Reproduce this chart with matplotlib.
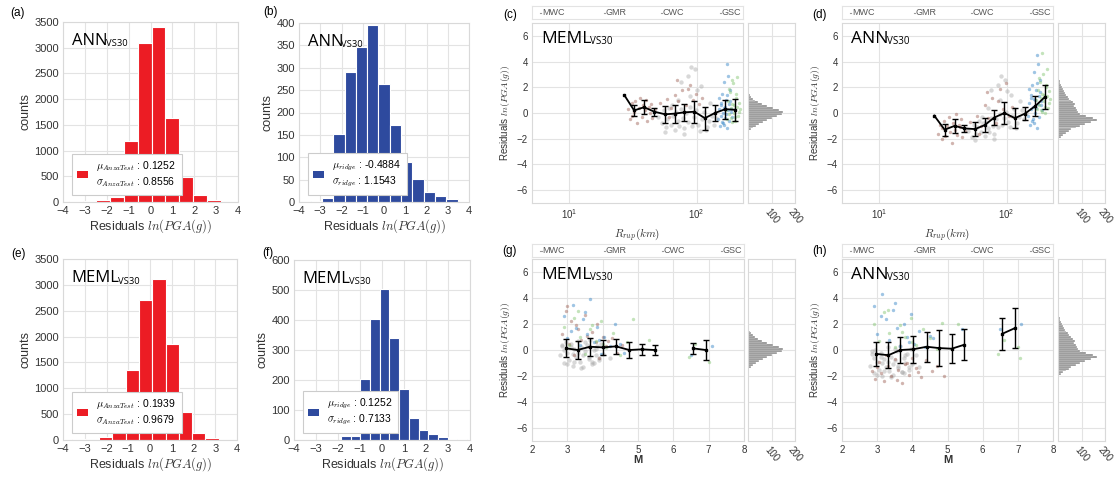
import numpy as np
import matplotlib
matplotlib.use("Agg")
import matplotlib.pyplot as plt
from matplotlib.patches import Patch

plt.rcParams['font.family'] = ['Liberation Sans', 'DejaVu Sans']
plt.rcParams['mathtext.fontset'] = 'cm'

W, H = 1115, 480
fig = plt.figure(figsize=(W / 100, H / 100), dpi=100)

GRID = '#e3e3e3'
SPINE = '#d9d9d9'
TICK = '#333333'
RED = '#ec1c24'
BLUE = '#2e4a9e'
HGRAY = '#8a8a8a'
C_MWC = '#9a5a4e'
C_GMR = '#a9a9a9'
C_CWC = '#2a7fc4'
C_GSC = '#7cc26a'
NA = np.nan

# ---------------- histogram data ----------------
a_edges = [-3.73, -3.10, -2.47, -1.84, -1.21, -0.58, 0.05, 0.68, 1.31, 1.94, 2.57, 3.20]
a_counts = [10, 20, 40, 100, 1180, 3100, 3400, 1640, 480, 130, 30]

b_edges = [-3.45, -2.92, -2.39, -1.85, -1.32, -0.79, -0.26, 0.28, 0.81, 1.34, 1.87, 2.41, 2.94, 3.47, 4.00]
b_counts = [3, 10, 152, 290, 346, 395, 264, 173, 89, 52, 22, 13, 7, 3]

e_edges = [-4.18, -3.57, -2.95, -2.34, -1.73, -1.12, -0.50, 0.107, 0.72, 1.33, 1.94, 2.55, 3.17]
e_counts = [15, 10, 5, 50, 150, 1350, 2700, 3120, 1850, 550, 130, 30]

f_edges = [-1.86, -1.42, -0.98, -0.54, -0.10, 0.34, 0.78, 1.22, 1.66, 2.10, 2.54, 2.98, 3.42, 3.86, 4.30]
f_counts = [12, 15, 205, 405, 505, 340, 170, 72, 35, 20, 9, 3, 5, 2]

hist_legends = {
    'a': (r'$\mu_{AnzaTest}$ : 0.1252', r'$\sigma_{AnzaTest}$ : 0.8556'),
    'b': (r'$\mu_{ridge}$ : -0.4884', r'$\sigma_{ridge}$ : 1.1543'),
    'e': (r'$\mu_{AnzaTest}$ : 0.1939', r'$\sigma_{AnzaTest}$ : 0.9679'),
    'f': (r'$\mu_{ridge}$ : 0.1252', r'$\sigma_{ridge}$ : 0.7133'),
}

# ---------------- binned means (error bars) ----------------
c_r = [27, 32.3, 38.7, 46.5, 56.5, 67, 80, 96, 116, 139, 168, 200]
c_mean = [1.4, 0.2, 0.45, 0.1, -0.1, -0.05, 0.05, 0.1, -0.4, 0.0, 0.3, 0.25]
c_std = [NA, 0.45, 0.55, 0.3, 0.65, 0.7, 0.65, 0.85, 0.9, 0.65, 0.75, 0.85]

d_r = [27, 32.6, 39, 46.5, 56.5, 67, 80, 96, 116, 139, 168, 200]
d_mean = [-0.2, -1.3, -1.0, -1.2, -1.25, -0.95, -0.35, 0.0, -0.4, -0.05, 0.55, 1.25]
d_std = [NA, 0.45, 0.55, 0.3, 0.55, 0.55, 0.6, 0.85, 0.8, 0.5, 0.8, 0.9]

g_m1 = [2.96, 3.29, 3.64, 4.01, 4.38, 4.75, 5.11, 5.47]
g_mean1 = [0.13, 0.0, 0.25, 0.2, 0.28, 0.0, 0.05, 0.0]
g_std1 = [0.7, 0.7, 0.7, 0.55, 0.55, 0.65, 0.4, 0.4]
g_m2 = [6.57, 6.92]
g_mean2 = [0.12, 0.0]
g_std2 = [0.4, 0.75]

h_m1 = [2.97, 3.32, 3.66, 4.01, 4.41, 4.75, 5.12, 5.47]
h_mean1 = [-0.3, -0.4, 0.0, 0.05, 0.25, 0.15, 0.1, 0.4]
h_std1 = [0.95, 1.0, 1.0, 1.05, 1.15, 1.4, 1.1, 1.2]
h_m2 = [6.56, 6.93]
h_mean2 = [1.25, 1.7]
h_std2 = [1.25, 1.55]

# ---------------- scatter of residuals by region ----------------
mwc_r = [29, 30, 31, 31, 32, 33, 34, 35, 36, 37, 38, 39, 40, 41, 42, 43, 44, 45, 47, 52,
         58, 63, 68, 72, 77, 82, 88, 93, 98, 104, 110, 61, 70, 85]
mwc_c_y = [0.3, -0.5, 0.8, -0.2, 0.1, 0.9, -0.8, 0.4, 1.2, -0.3, 0.6, 0.2, 1.0, -0.6, 0.5, 0.0,
           0.7, -0.4, 0.3, 0.8, 1.1, 0.4, 1.4, 0.9, 1.8, 0.6, 2.2, 1.0, 1.5, 0.7, 1.2, -0.3, 2.6, 1.9]
mwc_d_y = [-1.6, -0.9, -2.0, -1.2, -0.6, -1.8, -1.0, -0.3, -1.5, -2.3, -0.8, -1.3, -0.1, -1.7,
           -0.9, -1.1, -0.5, -1.9, -1.4, -0.7, -0.2, -1.0, 0.6, -0.4, 1.2, -0.8, 1.9, 0.3, 2.3,
           -0.2, 0.5, -1.6, 1.6, 0.9]

gmr_r = [50, 53, 55, 57, 59, 61, 63, 65, 67, 69, 71, 73, 75, 78, 80, 83, 86, 89, 92, 95, 98,
         102, 106, 110, 115, 120, 125, 131, 137, 143, 56, 64, 72, 79, 88, 97, 108, 118, 128,
         90, 100, 85, 75]
gmr_c_y = [-0.3, -0.8, 0.2, -1.1, -0.5, 0.4, -0.9, -0.2, -1.3, 0.1, -0.6, -1.0, 0.3, -0.4,
           -1.2, 0.0, -0.7, 0.5, -1.0, -0.3, 0.2, -0.9, -1.4, -0.5, 0.1, -1.1, -0.6, -0.2, -0.9,
           -0.4, -1.5, 0.6, 1.0, -1.6, 1.3, 3.4, 2.1, -1.3, 0.8, 3.6, 1.8, 2.9, 2.4]
gmr_d_y = [-1.4, -1.9, -0.9, -1.6, -1.1, -0.6, -1.5, -0.8, -1.8, -0.7, -1.2, -1.5, -0.4,
           -1.0, -1.6, -0.5, -1.1, -0.1, -0.9, -0.4, 0.1, -0.7, -1.1, -0.2, 0.3, -0.8, -0.3,
           0.2, -0.5, 0.0, -2.1, -0.3, 0.4, -2.0, 1.0, 2.6, 1.4, -1.2, 0.9, 2.9, 1.7, 2.2, 1.8]

cwc_r = [148, 150, 152, 154, 156, 158, 160, 162, 164, 166, 168, 170, 172, 174, 176, 178, 180,
         182, 185, 188, 151, 157, 163, 169, 175, 181, 187, 155, 165, 173]
cwc_c_y = [-0.5, 0.3, -1.0, 0.8, -0.2, 1.5, 0.0, -0.8, 2.4, 0.5, -0.4, 1.0, 3.8, -1.2, 0.2,
           0.7, -0.6, 1.8, 0.1, -0.3, 1.2, -0.7, 0.4, -0.1, 2.9, 0.9, 0.3, 0.6, -0.9, 1.4]
cwc_d_y = [-0.2, 0.8, -0.9, 1.4, 0.3, 2.2, 0.5, -0.5, 3.2, 1.0, 0.0, 1.8, 4.5, -1.2, 0.7,
           1.3, -0.3, 2.6, 0.6, 0.2, 1.9, -0.6, 1.1, 0.4, 3.8, 1.6, 0.9, 1.2, -0.8, 2.3]

gsc_r = [170, 173, 176, 179, 182, 185, 188, 191, 194, 197, 200, 203, 206, 209, 212, 215, 218,
         178, 186, 195, 204, 213, 190, 199]
gsc_c_y = [0.2, -0.5, 0.9, -0.1, 1.6, 0.4, -0.7, 0.7, 2.3, 0.0, -0.3, 1.2, 0.5, 2.8, -0.2,
           0.8, 0.3, 1.9, -0.4, 0.6, 1.5, 0.1, 2.6, -0.6]
gsc_d_y = [1.0, 0.3, 1.8, 0.6, 2.4, 1.2, 0.1, 1.5, 3.0, 0.9, 0.5, 2.0, 1.3, 3.4, 0.4, 1.7,
           1.1, 2.7, 0.2, 1.4, 2.2, 0.8, 4.7, 0.0]

gmr_m = [2.8, 2.85, 2.9, 2.95, 3.0, 3.05, 3.1, 3.15, 3.2, 3.25, 3.3, 3.35, 3.4, 3.45, 3.5,
         3.55, 3.6, 3.65, 3.7, 3.75, 3.8, 3.85, 3.9, 3.95, 4.0, 4.1, 4.2, 2.9, 3.0, 3.1, 3.2,
         3.3, 3.4, 3.5, 3.6, 3.7, 3.8, 3.9, 2.85, 3.15, 3.45, 3.75]
gmr_g_y = [-0.4, 0.3, -1.0, 0.6, -0.2, -0.8, 0.5, -1.2, 0.1, -0.5, 0.7, -0.9, 0.2, -1.3, -0.1,
           0.4, -0.7, 0.8, -1.1, 0.0, -0.4, 0.3, -0.8, 0.5, -0.3, 0.2, -0.6, 0.0, -1.1, 0.2,
           -0.9, -0.2, -1.4, 0.6, -0.5, -0.9, 0.1, -0.6, 0.4, -0.3, -0.4, -1.0]
gmr_h_y = [-1.2, -0.3, -1.8, 0.0, -0.9, -1.5, -0.2, -2.0, -0.7, -1.3, 0.2, -1.6, -0.5, -1.9,
           -0.8, -0.1, -1.4, 0.3, -1.7, -0.6, -1.0, -0.3, -1.5, 0.1, -1.1, -0.4, -1.3, -0.6,
           -1.9, -0.5, -1.6, -0.9, -2.1, 0.1, -1.2, -1.7, -0.4, -1.3, -0.1, -1.0, -1.1, -1.8]

mwc_g_m = [2.85, 2.95, 3.05, 3.1, 3.2, 3.3, 3.4, 3.5, 3.6, 3.7, 3.8, 3.9, 4.0, 4.1, 4.25,
           4.4, 4.55, 3.0, 3.25, 3.55, 3.85, 4.15]
mwc_g_y = [1.2, 3.0, 0.5, 2.2, -0.4, 1.6, 0.8, 2.7, 0.2, 1.4, 0.6, -0.6, 1.0, 0.3, 0.9, -0.2,
           0.4, 3.4, 1.9, 1.1, 2.0, 0.7]
mwc_h_m = [2.85, 2.95, 3.05, 3.1, 3.2, 3.3, 3.4, 3.5, 3.6, 3.7, 3.8, 3.9, 4.0, 4.1, 4.25,
           4.4, 4.55, 3.0, 3.25, 3.55, 3.85, 4.15, 4.7, 4.9]
mwc_h_y = [-1.6, -2.2, -0.9, -1.8, -2.4, -1.2, -2.0, -0.7, -1.5, -2.5, -1.1, -1.9, -0.6,
           -1.4, -2.1, -0.8, -1.6, -1.3, -0.4, -2.3, -1.0, -1.7, -1.2, -2.0]

cwc_g_m = [2.9, 3.0, 3.15, 3.25, 3.35, 3.45, 3.55, 3.65, 3.75, 3.85, 3.95, 4.05, 4.2, 4.35,
           4.5, 3.1, 3.5, 3.9, 4.6, 6.5, 7.1]
cwc_g_y = [2.6, 0.9, 3.5, 1.7, 0.4, 2.4, 1.2, 3.9, 0.6, 1.8, -0.3, 1.0, 0.3, 2.0, 0.5, 1.5,
           2.9, 0.8, -0.2, -0.4, 0.3]
cwc_h_m = [2.9, 3.0, 3.15, 3.25, 3.35, 3.45, 3.55, 3.65, 3.75, 3.85, 3.95, 4.05, 4.2, 4.35,
           4.5, 3.1, 3.5, 3.9, 4.6, 5.4, 6.5, 7.1]
cwc_h_y = [3.4, 1.2, 4.3, 2.4, 0.8, 3.1, 1.7, 0.3, 2.0, 1.0, 2.8, 0.5, 1.5, 0.2, 1.1, 2.6,
           3.6, 0.6, 0.9, 1.6, 1.6, 2.0]

gsc_g_m = [2.9, 3.05, 3.2, 3.35, 3.5, 3.65, 3.8, 3.95, 4.1, 4.3, 4.5, 4.7, 4.85, 3.3, 3.7,
           4.0, 5.3, 6.6, 7.0, 6.45]
gsc_g_y = [1.8, 0.4, 2.5, 1.0, -0.3, 1.6, 0.7, 2.2, 0.2, 1.3, -0.4, 0.6, 2.4, 3.0, 1.9, 0.5,
           0.8, 0.5, -0.9, -0.5]
gsc_h_m = [2.9, 3.05, 3.2, 3.35, 3.5, 3.65, 3.8, 3.95, 4.1, 4.3, 4.5, 4.7, 4.85, 3.3, 3.7,
           4.0, 5.3, 6.6, 7.0, 6.45, 7.05]
gsc_h_y = [2.0, 0.7, 2.9, 1.3, 0.2, 1.9, 1.0, 2.5, 0.4, 1.6, 0.9, 0.1, 2.1, 3.1, 1.4, 0.6,
           2.0, 0.8, 0.2, -0.3, -0.6]

# ---------------- marginal residual histograms ----------------
meml_res_edges = [-1.5 + 0.15 * i for i in range(26)]
meml_res_counts = [5, 12, 20, 32, 45, 62, 80, 100, 125, 145, 150, 130, 105, 80, 60, 42, 30,
                   20, 14, 9, 6, 4, 3, 2, 1]
ann_res_edges = [-2.1 + 0.15 * i for i in range(42)]
ann_res_counts = [5, 12, 22, 32, 45, 55, 75, 95, 115, 140, 165, 150, 120, 95, 85, 80, 75, 70,
                  72, 62, 55, 48, 42, 35, 30, 25, 20, 15, 12, 9, 7, 6, 5, 4, 3, 3, 2, 2, 1, 1, 1]

regions = ['MWC', 'GMR', 'CWC', 'GSC']


def px_axes(x0, y0, x1, y1):
    return fig.add_axes([x0 / W, 1 - y1 / H, (x1 - x0) / W, (y1 - y0) / H])


def style(ax, fs=7.5):
    ax.set_facecolor('white')
    ax.grid(True, color=GRID, lw=0.8)
    ax.set_axisbelow(True)
    for s in ax.spines.values():
        s.set_color(SPINE)
        s.set_linewidth(0.8)
    ax.tick_params(length=0, labelsize=fs, colors=TICK, pad=3)


def model_tag(ax, name, x=0.05, y=0.94, fs=12):
    t = ax.text(x, y, name, transform=ax.transAxes, fontsize=fs, family='Open Sans',
                va='top', ha='left', color='black', zorder=6)
    ax.annotate('VS30', xy=(1.0, 0.02), xycoords=t, xytext=(-1.2, 0), textcoords='offset points',
                fontsize=fs * 0.56, family='Open Sans', va='bottom', ha='left', color='black',
                zorder=6)


def hist_panel(box, edges, counts, color, ymax, yticks, tag, tagx, tagy, name, key):
    ax = px_axes(*box)
    style(ax, 8)
    lefts = edges[:-1]
    widths = [edges[i + 1] - edges[i] for i in range(len(counts))]
    ax.bar(lefts, counts, width=widths, align='edge', color=color, edgecolor='white', lw=0.8,
           zorder=2)
    ax.set_xlim(-4, 4)
    ax.set_ylim(0, ymax)
    ax.set_xticks(range(-4, 5))
    ax.set_xticklabels(['\u22124', '\u22123', '\u22122', '\u22121', '0', '1', '2', '3', '4'])
    ax.set_yticks(yticks)
    ax.set_ylabel('counts', fontsize=9, color=TICK, labelpad=2)
    ax.set_xlabel(r'Residuals $ln(PGA(g))$', fontsize=9, color=TICK, labelpad=1)
    ax.text(tagx, tagy, tag, transform=ax.transAxes, fontsize=8.5, va='center', ha='left')
    model_tag(ax, name)
    mu, sg = hist_legends[key]
    leg = ax.legend([Patch(facecolor=color)], [mu + '\n' + sg], loc='lower left',
                    bbox_to_anchor=(0.02, 0.01), fontsize=7.5, frameon=True, framealpha=1,
                    edgecolor='#cccccc', fancybox=False, handlelength=1.0, handleheight=0.7,
                    borderpad=0.55, handletextpad=0.8)
    leg.get_frame().set_linewidth(0.8)
    leg.set_zorder(5)
    return ax


def strip(box):
    ax = px_axes(*box)
    ax.set_xlim(0, 1)
    ax.set_ylim(0, 1)
    ax.set_xticks([])
    ax.set_yticks([])
    for s in ax.spines.values():
        s.set_color('#e3e3e3')
        s.set_linewidth(0.8)
    for xpos, name in zip([0.045, 0.345, 0.617, 0.898], regions):
        ax.plot([xpos - 0.006, xpos], [0.5, 0.5], color='#9a9a9a', lw=0.8)
        ax.text(xpos + 0.002, 0.5, name, fontsize=6.5, color='#555555', va='center', ha='left')


def errline(ax, xs, ys, es):
    ax.errorbar(xs, ys, yerr=es, color='black', lw=1.3, elinewidth=1.0, capsize=2.5,
                capthick=1.0, marker='s', ms=2.0, zorder=5)


def scatter_groups(ax, groups):
    for xs, ys, c in groups:
        big = c == C_GMR
        ax.scatter(xs, ys, s=10 if big else 6, color=c, alpha=0.45, lw=0, zorder=3)


def marginal(box, edges, counts):
    ax = px_axes(*box)
    style(ax, 7)
    heights = [edges[i + 1] - edges[i] for i in range(len(counts))]
    ax.barh(edges[:-1], counts, height=heights, align='edge', color=HGRAY, edgecolor='white',
            lw=0.25, zorder=2)
    ax.set_ylim(-7, 7)
    ax.set_xlim(0, 195)
    ax.set_yticks(range(-6, 7, 2))
    ax.set_yticklabels([])
    ax.set_xticks([100, 200])
    ax.set_xticklabels(['100', '200'], rotation=-50, ha='center', va='top')
    return ax


def resid_panel(box, tag, name, log=True):
    ax = px_axes(*box)
    style(ax, 7)
    ax.set_ylim(-7, 7)
    ax.set_yticks(range(-6, 7, 2))
    ax.set_yticklabels(['\u22126', '\u22124', '\u22122', '0', '2', '4', '6'])
    ax.set_ylabel(r'Residuals $ln(PGA(g))$', fontsize=7, color=TICK, labelpad=3)
    if log:
        ax.set_xscale('log')
        ax.set_xlim(5.1, 231)
        ax.set_xticks([10, 100])
        ax.xaxis.set_minor_locator(matplotlib.ticker.NullLocator())
        ax.set_xlabel(r'$R_{rup}(km)$', fontsize=8, color=TICK, labelpad=4)
    else:
        ax.set_xlim(2, 8)
        ax.set_xticks(range(2, 9))
        ax.set_xlabel('M', fontsize=8, fontweight='bold', color=TICK, labelpad=0)
    ax.text(-0.07, 1.045, tag, transform=ax.transAxes, fontsize=8.5, va='center', ha='right')
    model_tag(ax, name, x=0.045, y=0.955, fs=12.5)
    return ax


# --- left histograms ---
hist_panel((63, 22, 238, 202), a_edges, a_counts, RED, 3500, range(0, 3501, 500), '(a)',
           -0.30, 1.05, 'ANN', 'a')
hist_panel((299, 23, 469, 202), b_edges, b_counts, BLUE, 400, range(0, 401, 50), '(b)',
           -0.21, 1.06, 'ANN', 'b')
hist_panel((63, 259, 237, 440), e_edges, e_counts, RED, 3500, range(0, 3501, 500), '(e)',
           -0.30, 1.03, 'MEML', 'e')
hist_panel((294, 260, 470, 440), f_edges, f_counts, BLUE, 600, range(0, 601, 100), '(f)',
           -0.18, 1.04, 'MEML', 'f')

# --- (c) MEML vs distance ---
ax = resid_panel((532, 23, 743, 203), '(c)', 'MEML')
scatter_groups(ax, [(gmr_r, gmr_c_y, C_GMR), (mwc_r, mwc_c_y, C_MWC),
                    (cwc_r, cwc_c_y, C_CWC), (gsc_r, gsc_c_y, C_GSC)])
errline(ax, c_r, c_mean, c_std)
strip((532, 6, 743, 19))
marginal((748, 23, 795, 203), meml_res_edges, meml_res_counts)

# --- (d) ANN vs distance ---
ax = resid_panel((842, 23, 1053, 203), '(d)', 'ANN')
scatter_groups(ax, [(gmr_r, gmr_d_y, C_GMR), (mwc_r, mwc_d_y, C_MWC),
                    (cwc_r, cwc_d_y, C_CWC), (gsc_r, gsc_d_y, C_GSC)])
errline(ax, d_r, d_mean, d_std)
strip((842, 6, 1053, 19))
marginal((1058, 23, 1105, 203), ann_res_edges, ann_res_counts)

# --- (g) MEML vs magnitude ---
ax = resid_panel((532, 259, 744, 441), '(g)', 'MEML', log=False)
scatter_groups(ax, [(gmr_m, gmr_g_y, C_GMR), (mwc_g_m, mwc_g_y, C_MWC),
                    (cwc_g_m, cwc_g_y, C_CWC), (gsc_g_m, gsc_g_y, C_GSC)])
errline(ax, g_m1, g_mean1, g_std1)
errline(ax, g_m2, g_mean2, g_std2)
strip((532, 244, 744, 257))
marginal((748, 259, 795, 441), meml_res_edges, meml_res_counts)

# --- (h) ANN vs magnitude ---
ax = resid_panel((842, 259, 1053, 441), '(h)', 'ANN', log=False)
scatter_groups(ax, [(gmr_m, gmr_h_y, C_GMR), (mwc_h_m, mwc_h_y, C_MWC),
                    (cwc_h_m, cwc_h_y, C_CWC), (gsc_h_m, gsc_h_y, C_GSC)])
errline(ax, h_m1, h_mean1, h_std1)
errline(ax, h_m2, h_mean2, h_std2)
strip((842, 244, 1053, 257))
marginal((1058, 259, 1105, 441), ann_res_edges, ann_res_counts)

fig.savefig('out.png', dpi=100, facecolor='white')
